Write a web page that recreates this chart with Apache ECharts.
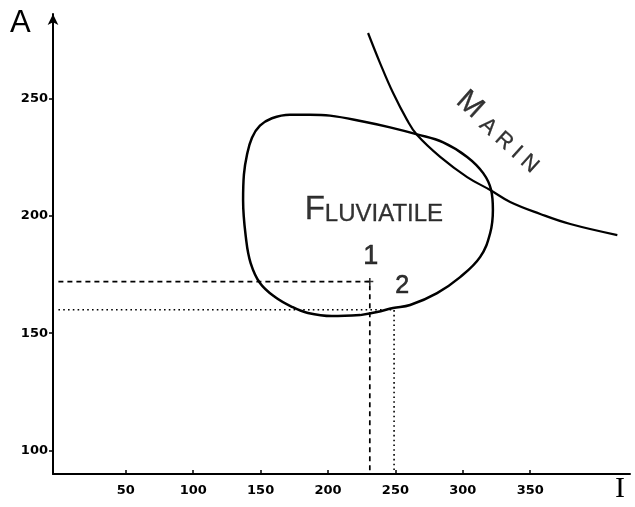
<!DOCTYPE html>
<html>
<head>
<meta charset="utf-8">
<script src="https://cdn.jsdelivr.net/npm/echarts@6/dist/echarts.min.js"></script>
<style>html,body{margin:0;padding:0;background:#fff}#c{width:635px;height:507px}</style>
</head>
<body>
<div id="c"></div>
<script>
// ---- data ----
const xTickValues = [50, 100, 150, 200, 250, 300, 350];
const yTickValues = [100, 150, 200, 250];
const xRange = [-4, 424];
const yRange = [90, 286];
const xAxisName = 'I';
const yAxisName = 'A';

// Fluviatile domain (closed contour), [I, A]
const fluviatile = [
  [223.8, 157.7], [202.9, 157.3], [185.1, 158.6], [173.3, 161.2], [160.7, 165.4],
  [149.5, 171.4], [142.6, 179.9], [139.3, 189.7], [137.0, 206.7],
  [137.6, 217.5], [139.9, 226.0], [143.6, 233.3], [149.5, 238.4], [158.4, 241.6],
  [171.8, 243.1], [186.6, 243.1], [201.5, 242.7], [226.0, 240.2], [246.0, 237.7],
  [266.1, 234.7], [285.4, 231.3], [303.2, 225.1], [315.1, 218.2], [321.0, 211.0],
  [322.3, 202.5], [320.3, 192.7], [312.9, 182.5], [298.0, 173.9], [280.9, 167.1],
  [260.9, 162.0], [248.3, 160.7], [236.4, 159.0]
];
// Marine boundary
const marin = [
  [229.7, 277.9], [238.6, 265.1], [248.3, 252.3], [258.7, 240.8], [266.1, 234.4],
  [283.2, 225.1], [303.2, 216.5], [320.3, 211.0], [335.1, 205.9], [357.4, 200.8],
  [379.7, 196.5], [414.6, 191.8]
];
// Samples
const point1 = [231, 172];
const point2 = [249, 160];
const pointNames = ['1', '2'];
// Region names and their anchor in data space
const fluvLabel = { name: 'FLUVIATILE', at: [234, 202.5] };
const marinLabel = { name: 'MARIN', at: [327, 236] };

const chart = echarts.init(document.getElementById('c'), null, { renderer: 'canvas' });
const black = '#000';
const font = 'Liberation Sans';
const tickFont = { color: black, fontFamily: 'DejaVu Sans', fontSize: 13, fontWeight: 'bold' };

const option = {
  animation: false,
  backgroundColor: '#fff',
  grid: { left: 53, right: 5, top: 14, bottom: 33, containLabel: false, outerBoundsMode: 'none' },
  xAxis: {
    type: 'value', min: xRange[0], max: xRange[1],
    axisLine: { show: true, onZero: false, lineStyle: { color: black, width: 2 } },
    axisTick: { show: true, inside: true, length: 4, customValues: xTickValues, lineStyle: { color: black, width: 1.5 } },
    axisLabel: Object.assign({ show: true, customValues: xTickValues, margin: 10 }, tickFont),
    splitLine: { show: false }
  },
  yAxis: {
    type: 'value', min: yRange[0], max: yRange[1],
    axisLine: { show: true, onZero: false, symbol: ['none', 'arrow'], symbolSize: [8, 11], lineStyle: { color: black, width: 2 } },
    axisTick: { show: true, inside: false, length: 4, customValues: yTickValues, lineStyle: { color: black, width: 1.5 } },
    axisLabel: Object.assign({ show: true, customValues: yTickValues, margin: 5 }, tickFont),
    splitLine: { show: false }
  },
  graphic: [
    { type: 'text', left: 10, top: 8, style: { text: yAxisName, font: '31px "Liberation Sans"', fill: black } },
    { type: 'text', left: 615, top: 474, style: { text: xAxisName, font: '30px "Liberation Serif"', fill: black } }
  ],
  series: [
    {
      name: 'fluviatile', type: 'line', smooth: 0.4, symbol: 'none',
      data: fluviatile.concat([fluviatile[0]]),
      lineStyle: { color: black, width: 2.5 }
    },
    {
      name: 'marin', type: 'line', smooth: 0.4, symbol: 'none',
      data: marin,
      lineStyle: { color: black, width: 2.2 }
    },
    {
      name: 'guide1', type: 'line', symbol: 'none',
      data: [[0, point1[1]], point1, [point1[0], yRange[0]]],
      lineStyle: { color: black, width: 1.7, type: [5, 4] }
    },
    {
      name: 'guide2', type: 'line', symbol: 'none',
      data: [[0, point2[1]], point2, [point2[0], yRange[0]]],
      lineStyle: { color: black, width: 1.6, type: [1.6, 3.2] }
    },
    {
      name: 'p1', type: 'scatter', symbol: 'path://M0,5 L10,5 M5,0 L5,10', symbolSize: 7,
      data: [point1],
      itemStyle: { color: 'none', borderColor: black, borderWidth: 1.6 },
      label: { show: true, formatter: pointNames[0], position: 'inside', offset: [1, -25], color: black, fontFamily: font, fontSize: 27, textBorderColor: black, textBorderWidth: 0.6 }
    },
    {
      name: 'p2', type: 'scatter', symbol: 'emptyCircle', symbolSize: 7,
      data: [point2],
      itemStyle: { color: '#fff', borderColor: black, borderWidth: 1.6 },
      label: { show: true, formatter: pointNames[1], position: 'inside', offset: [8, -24], color: black, fontFamily: font, fontSize: 25, textBorderColor: black, textBorderWidth: 0.6 }
    },
    {
      name: 'labels', type: 'scatter', symbolSize: 0, silent: true,
      data: [
        { value: fluvLabel.at, label: {
          show: true, position: 'inside',
          formatter: '{b|' + fluvLabel.name[0] + '}{s|' + fluvLabel.name.slice(1) + '}',
          rich: {
            b: { fontFamily: font, fontSize: 33, lineHeight: 33, color: black, verticalAlign: 'bottom', textBorderColor: black, textBorderWidth: 0.3 },
            s: { fontFamily: font, fontSize: 24, lineHeight: 24, color: black, verticalAlign: 'bottom', textBorderColor: black, textBorderWidth: 0.3 }
          }
        } },
        { value: marinLabel.at, label: {
          show: true, position: 'inside', rotate: -42,
          formatter: '{b|' + marinLabel.name[0] + ' }{s|' + marinLabel.name.slice(1).split('').join(' ') + '}',
          rich: {
            b: { fontFamily: font, fontSize: 30, lineHeight: 30, color: black, verticalAlign: 'bottom', textBorderColor: black, textBorderWidth: 0.3 },
            s: { fontFamily: font, fontSize: 22, lineHeight: 22, color: black, verticalAlign: 'bottom', textBorderColor: black, textBorderWidth: 0.3 }
          }
        } }
      ]
    }
  ]
};
chart.setOption(option);
</script>
</body>
</html>
